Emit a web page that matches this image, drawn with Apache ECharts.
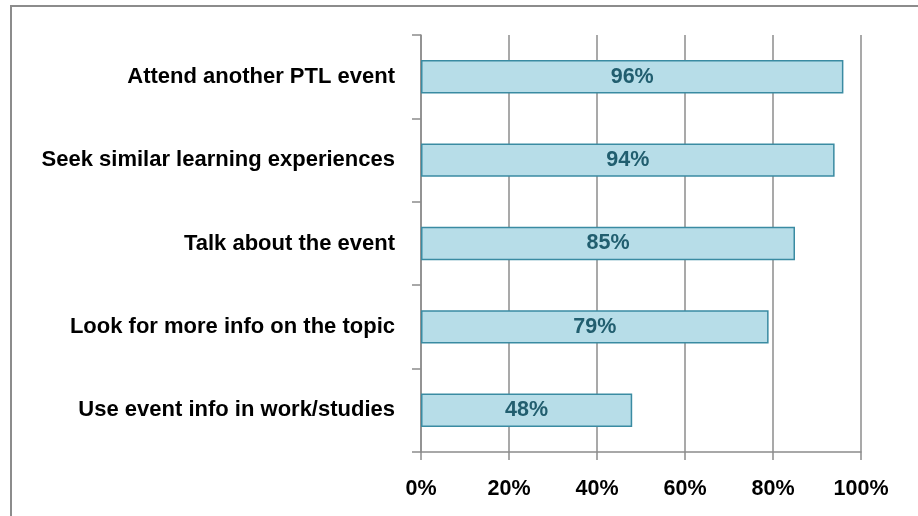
<!DOCTYPE html>
<html lang="en">
<head>
    <meta charset="UTF-8">
    <title>Engagement</title>
    <style>
        html,body{
            height: 100%;
        }
        body{
            margin: 0;
            padding: 0;
            background: #fff;
        }
        #chart_bar{
            width: 918px;
            height: 516px;
        }
    </style>
</head>
<body>
    <div id="chart_bar"></div>
</body>
</html>
<script src="https://cdn.jsdelivr.net/npm/echarts@6/dist/echarts.min.js"></script>
<script>
    var categories = [
        'Attend another PTL event',
        'Seek similar learning experiences',
        'Talk about the event',
        'Look for more info on the topic',
        'Use event info in work/studies'
    ];
    var values = [96, 94, 85, 79, 48];
    var xTicks = [0, 20, 40, 60, 80, 100];

    var font = '"Liberation Sans", Arial, sans-serif';
    var grey = '#8c8c8c';

    var myChart = echarts.init(document.getElementById('chart_bar'));

    myChart.setOption({
        animation: false,
        graphic: [{
            type: 'rect',
            shape: { x: 11, y: 6, width: 930, height: 530 },
            style: { fill: 'none', stroke: grey, lineWidth: 2 },
            silent: true
        }],
        grid: {
            left: 421,
            right: 57,
            top: 35,
            bottom: 64
        },
        xAxis: {
            type: 'value',
            min: xTicks[0],
            max: xTicks[xTicks.length - 1],
            interval: 20,
            axisLine: { show: true, lineStyle: { color: grey, width: 1.5 } },
            axisTick: { show: true, length: 8, lineStyle: { color: grey, width: 1.5 } },
            splitLine: { show: true, lineStyle: { color: grey, width: 1.5 } },
            axisLabel: {
                margin: 26,
                color: '#000',
                fontFamily: font,
                fontWeight: 'bold',
                fontSize: 21.5,
                formatter: '{value}%'
            }
        },
        yAxis: {
            type: 'category',
            inverse: true,
            data: categories,
            axisLine: { show: true, lineStyle: { color: grey, width: 1.5 } },
            axisTick: { show: true, length: 9, lineStyle: { color: grey, width: 1.5 } },
            axisLabel: {
                margin: 26,
                color: '#000',
                fontFamily: font,
                fontWeight: 'bold',
                fontSize: 22
            }
        },
        series: [{
            type: 'bar',
            data: values,
            barWidth: '40%',
            itemStyle: {
                color: '#b7dde8',
                borderColor: '#3a8ba2',
                borderWidth: 1.5
            },
            label: {
                show: true,
                position: 'inside',
                color: '#215e6f',
                fontFamily: font,
                fontWeight: 'bold',
                fontSize: 21.5,
                formatter: '{c}%'
            }
        }]
    });
</script>
